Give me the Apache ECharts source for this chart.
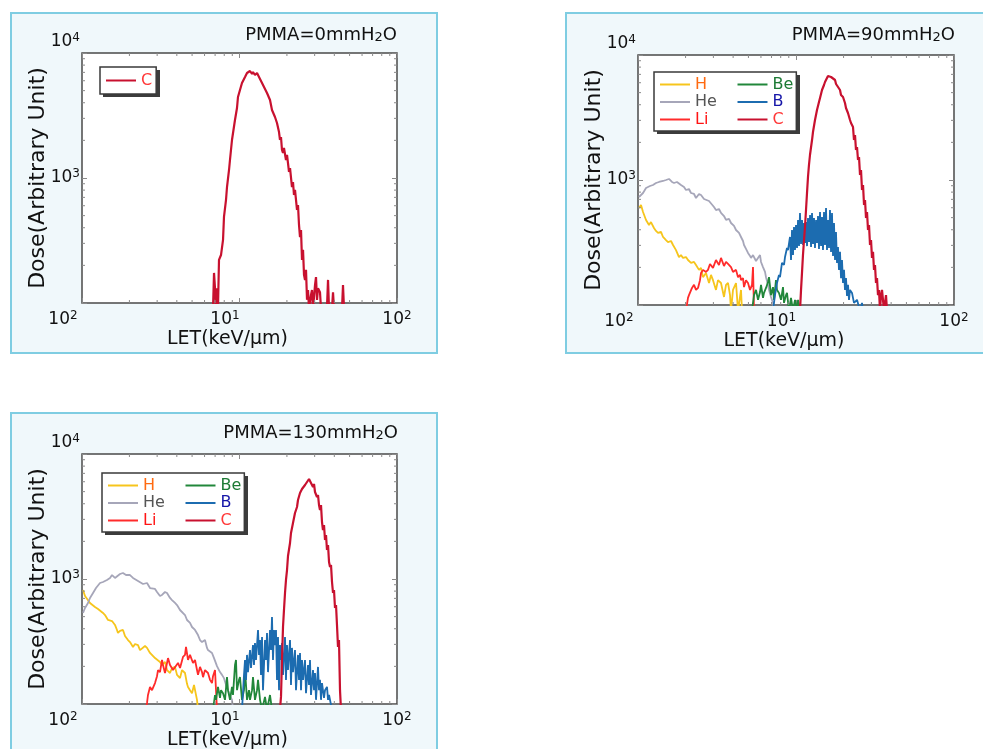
<!DOCTYPE html>
<html>
<head>
<meta charset="utf-8">
<title>LET spectra behind PMMA</title>
<script src="https://cdn.jsdelivr.net/npm/echarts@6/dist/echarts.min.js"></script>
<style>
  html, body { margin:0; padding:0; background:#fff; width:983px; height:749px; overflow:hidden; }
  .panel { position:absolute; width:428px; height:342px; box-sizing:border-box; border:2px solid #7fcde2; background:#f0f8fb; }
  .panel .chart { position:absolute; left:0; top:0; width:424px; height:338px; }
</style>
</head>
<body>
<div class="panel" style="left:10px;top:12px"><div class="chart" id="chart0"></div></div>
<div class="panel" style="left:565px;top:12px"><div class="chart" id="chart90"></div></div>
<div class="panel" style="left:10px;top:412px"><div class="chart" id="chart130"></div></div>
<script>
// ions and their colours (line / legend text)
var ions = ['H', 'He', 'Li', 'Be', 'B', 'C'];
var lineColors = { H:'#f6c51c', He:'#a6a6b9', Li:'#ff2b2b', Be:'#21873a', B:'#1c6cb0', C:'#c8112f' };
var textColors = { H:'#ff6a10', He:'#555555', Li:'#ff1414', Be:'#1d7a35', B:'#1616a8', C:'#ff3838' };

// tick labels, printed as 10^n (the picture shows 10^2 at the left end of LET)
var xTickPowers = [0, 1, 2];
var xTickSups = ['2', '1', '2'];
var yTickPowers = [2, 3, 4];
var yTickSups = ['', '3', '4'];
var xMinorTicks = [2, 3, 4, 5, 6, 7, 8, 9, 20, 30, 40, 50, 60, 70, 80, 90];
var yMinorTicks = [200, 300, 400, 500, 600, 700, 800, 900, 2000, 3000, 4000, 5000, 6000, 7000, 8000, 9000];

// PMMA = 0 mmH2O : [LET, dose]
var pmma0_C = [[6.79,90],[6.89,90],[6.89,174],[6.99,131],[7.09,90],[7.20,131],[7.30,90],[7.41,221],[7.63,242],[7.86,320],[7.97,488],[8.21,667],[8.33,847],[8.58,1159],[8.70,1393],[8.96,2014],[9.09,2089],[9.36,2911],[9.64,3631],[9.78,4446],[10.07,5058],[10.37,5754],[10.84,6427],[11.16,6918],[11.49,6792],[11.66,7178],[12.01,6792],[12.18,7047],[12.54,6668],[12.92,6918],[13.30,6427],[13.90,5754],[14.31,5346],[14.95,4786],[15.62,4207],[16.08,3499],[16.80,3076],[17.30,2754],[17.82,2333],[18.07,2014],[18.34,2128],[18.61,1675],[18.89,1585],[19.16,1738],[19.73,1393],[20.03,1528],[20.32,1318],[20.62,1117],[20.93,1202],[21.54,847],[21.86,929],[22.18,731],[22.51,802],[23.18,555],[23.52,608],[23.87,421],[24.22,337],[24.58,384],[24.94,221],[25.31,266],[25.68,168],[26.06,153],[26.44,184],[26.83,106],[27.23,127],[27.63,90],[28.44,116],[28.86,127],[29.29,90],[30.16,139],[30.60,161],[31.05,106],[31.51,131],[32.44,122],[32.92,90],[35.9,90],[36.48,153],[37.02,90],[38.67,90],[39.24,122],[39.81,90],[44.76,90],[45.41,139],[46.08,90]];

// PMMA = 90 mmH2O
var pmma90_H = [[1.015,597],[1.045,631],[1.076,555],[1.124,479],[1.174,437],[1.208,461],[1.262,413],[1.300,391],[1.339,377],[1.398,384],[1.440,350],[1.504,331],[1.549,319],[1.618,325],[1.666,302],[1.740,275],[1.817,242],[1.871,251],[1.927,238],[2.012,242],[2.072,229],[2.165,217],[2.262,221],[2.329,209],[2.433,191],[2.505,198],[2.579,167],[2.694,180],[2.815,150],[2.897,174],[2.983,158],[3.116,132],[3.208,158],[3.352,150],[3.502,116],[3.606,145],[3.713,150],[3.823,120],[3.879,90],[3.993,132],[4.172,150],[4.296,90],[4.487,132],[4.553,90]];
var pmma90_He = [[1.015,731],[1.076,787],[1.124,863],[1.191,895],[1.244,912],[1.300,946],[1.358,964],[1.440,982],[1.504,1000],[1.571,1019],[1.641,964],[1.690,946],[1.765,964],[1.871,912],[1.955,879],[2.012,832],[2.102,847],[2.165,787],[2.262,773],[2.329,718],[2.433,773],[2.505,759],[2.617,705],[2.694,692],[2.815,679],[2.897,667],[3.027,608],[3.116,575],[3.255,586],[3.352,545],[3.502,515],[3.606,479],[3.767,488],[3.879,453],[4.052,429],[4.172,398],[4.358,377],[4.487,350],[4.620,325],[4.688,302],[4.826,281],[4.969,261],[5.116,247],[5.191,238],[5.344,251],[5.423,242],[5.583,225],[5.749,238],[5.919,251],[6.006,221],[6.183,201],[6.366,184],[6.459,167],[6.650,145],[6.748,132],[6.947,116],[7.153,104],[7.258,90]];
var pmma90_Li = [[2.012,90],[2.072,114],[2.102,120],[2.197,137],[2.262,145],[2.329,132],[2.398,137],[2.468,158],[2.505,180],[2.579,191],[2.617,198],[2.694,184],[2.773,191],[2.855,213],[2.897,217],[2.983,198],[3.116,229],[3.208,221],[3.255,209],[3.352,238],[3.451,233],[3.502,205],[3.606,221],[3.713,213],[3.879,201],[3.993,184],[4.052,180],[4.172,191],[4.296,167],[4.422,174],[4.487,158],[4.620,164],[4.688,139],[4.826,158],[4.969,150],[5.116,132],[5.191,132],[5.267,145],[5.344,201],[5.423,90]];
var pmma90_Be = [[5.267,90],[5.423,120],[5.583,132],[5.749,110],[5.919,127],[6.006,145],[6.183,114],[6.274,125],[6.459,137],[6.650,153],[6.748,167],[6.947,120],[7.153,139],[7.258,110],[7.469,158],[7.580,132],[7.804,125],[8.035,110],[8.274,139],[8.396,104],[8.645,120],[8.770,125],[9.031,90],[9.298,114],[9.573,90],[9.856,110],[10.15,90],[10.30,110],[10.60,90]];
var pmma90_B = [[7.153,90],[7.362,120],[7.580,150],[7.804,174],[7.919,167],[8.153,217],[8.396,209],[8.520,242],[8.770,286],[8.899,275],[9.163,350],[9.298,229],[9.434,398],[9.573,251],[9.713,421],[9.856,275],[10.00,437],[10.15,286],[10.30,479],[10.45,296],[10.60,545],[10.76,308],[10.92,479],[11.08,302],[11.24,453],[11.40,313],[11.57,461],[11.74,296],[11.91,497],[12.09,319],[12.27,525],[12.45,291],[12.63,545],[12.81,308],[13.00,497],[13.19,286],[13.39,479],[13.58,313],[13.78,515],[13.98,281],[14.19,555],[14.40,296],[14.61,506],[14.82,275],[15.04,555],[15.26,302],[15.49,597],[15.71,275],[15.94,479],[16.18,286],[16.41,575],[16.66,266],[16.90,545],[17.15,247],[17.40,453],[17.66,229],[17.91,384],[18.18,217],[18.44,291],[18.71,191],[18.99,266],[19.27,164],[19.55,229],[19.84,150],[20.13,191],[20.42,132],[20.72,164],[21.03,118],[21.34,145],[21.65,110],[21.97,132],[22.62,125],[23.28,104],[24.33,110],[25.42,90],[26.17,104],[26.56,90]];
var pmma90_C = [[10.60,90],[10.76,132],[10.91,180],[11.07,251],[11.24,331],[11.40,421],[11.57,575],[11.74,787],[11.91,1057],[12.08,1318],[12.26,1585],[12.63,2089],[12.81,2421],[13.19,3020],[13.58,3631],[13.98,4207],[14.19,4529],[14.61,5248],[15.04,5754],[15.26,6081],[15.71,6546],[15.94,6792],[16.41,6918],[16.66,6668],[17.15,6546],[17.66,6310],[17.92,5861],[18.45,5546],[18.99,5248],[19.27,4786],[19.84,4613],[20.42,4130],[20.72,3767],[21.33,3436],[21.97,3020],[22.29,2858],[22.95,2655],[23.28,2089],[23.63,2291],[23.97,1738],[24.33,1837],[24.69,1445],[25.05,1528],[25.42,1096],[25.79,1202],[26.17,832],[26.56,912],[26.95,631],[27.34,692],[27.74,497],[28.15,555],[28.56,398],[28.98,437],[29.41,302],[29.84,331],[30.27,238],[30.72,266],[31.17,191],[31.62,209],[32.09,150],[32.56,164],[33.03,120],[33.52,132],[34.01,90],[34.51,120],[35.02,132],[35.53,110],[36.06,90],[37.12,120],[37.67,90]];

// PMMA = 130 mmH2O
var pmma130_H = [[1.015,817],[1.045,731],[1.076,718],[1.124,643],[1.157,655],[1.209,597],[1.264,575],[1.301,565],[1.359,535],[1.400,515],[1.463,470],[1.506,453],[1.551,461],[1.620,429],[1.668,391],[1.692,370],[1.743,384],[1.821,391],[1.875,350],[1.959,325],[2.017,313],[2.108,286],[2.170,302],[2.268,296],[2.335,270],[2.404,261],[2.512,291],[2.587,281],[2.703,256],[2.783,247],[2.908,233],[2.994,225],[3.128,217],[3.221,205],[3.365,217],[3.465,187],[3.621,177],[3.728,194],[3.895,198],[4.011,171],[4.191,161],[4.315,187],[4.508,177],[4.642,145],[4.710,137],[4.850,129],[4.994,122],[5.142,142],[5.218,137],[5.373,108],[5.452,90]];
var pmma130_He = [[1.015,535],[1.045,586],[1.092,643],[1.124,705],[1.175,773],[1.227,847],[1.301,929],[1.359,946],[1.441,982],[1.506,1019],[1.551,1076],[1.620,1019],[1.668,1038],[1.743,1096],[1.821,1117],[1.903,1076],[2.017,1076],[2.108,1019],[2.170,1019],[2.268,964],[2.335,982],[2.440,912],[2.587,929],[2.703,847],[2.783,817],[2.908,832],[2.994,787],[3.128,731],[3.221,745],[3.365,787],[3.465,773],[3.621,705],[3.728,679],[3.895,643],[4.011,619],[4.191,565],[4.315,555],[4.508,515],[4.642,470],[4.850,445],[4.994,413],[5.218,391],[5.452,356],[5.614,325],[5.781,313],[6.039,325],[6.219,281],[6.310,270],[6.497,261],[6.690,256],[6.890,233],[6.990,225],[7.197,201],[7.302,198],[7.519,180],[7.743,171],[7.972,161],[8.090,156],[8.330,134],[8.453,129],[8.703,116],[8.962,108],[9.093,90]];
var pmma130_Li = [[2.549,90],[2.587,102],[2.624,118],[2.703,137],[2.783,129],[2.908,147],[2.994,167],[3.038,187],[3.128,180],[3.221,225],[3.268,205],[3.365,177],[3.415,194],[3.516,233],[3.621,205],[3.783,187],[3.895,194],[4.071,213],[4.191,194],[4.378,238],[4.508,247],[4.575,286],[4.710,225],[4.850,247],[5.069,213],[5.218,225],[5.373,187],[5.452,171],[5.614,198],[5.781,180],[5.867,164],[6.039,187],[6.310,177],[6.497,156],[6.690,147],[6.789,167],[6.990,187],[7.093,129],[7.197,90]];
var pmma130_Be = [[6.789,90],[6.990,118],[7.093,108],[7.302,137],[7.519,112],[7.630,129],[7.857,122],[8.090,108],[8.330,164],[8.453,129],[8.703,108],[8.962,137],[9.093,118],[9.364,205],[9.502,225],[9.641,129],[9.927,156],[10.07,164],[10.37,108],[10.68,129],[10.84,187],[11.16,108],[11.49,129],[11.66,108],[12.01,129],[12.18,164],[12.54,108],[12.92,129],[13.11,156],[13.50,108],[13.90,90],[14.52,114],[14.95,90],[15.62,118],[16.08,90]];
var pmma130_B = [[10.37,90],[10.52,122],[10.68,171],[10.84,225],[11.00,156],[11.16,247],[11.32,180],[11.66,270],[11.83,194],[12.18,296],[12.36,205],[12.54,308],[12.73,225],[13.11,391],[13.30,247],[13.50,325],[13.69,171],[13.90,344],[14.10,129],[14.52,325],[14.74,225],[14.95,370],[15.17,180],[15.62,391],[15.85,270],[16.08,497],[16.32,225],[16.56,391],[16.80,296],[17.05,391],[17.30,156],[17.56,344],[17.82,129],[18.07,296],[18.34,225],[18.61,308],[18.89,171],[19.45,344],[19.73,156],[20.03,296],[20.32,187],[20.93,325],[21.23,142],[21.54,281],[21.86,180],[22.51,270],[22.84,129],[23.52,247],[23.87,156],[24.22,256],[24.58,129],[24.94,225],[25.31,156],[26.06,225],[26.44,122],[27.23,205],[27.63,142],[28.03,225],[28.44,118],[29.29,187],[29.72,129],[30.16,177],[30.60,108],[31.51,198],[31.97,129],[32.44,156],[32.92,108],[33.40,147],[34.40,112],[34.91,129],[35.94,137],[36.48,108],[37.02,118],[37.56,114],[38.67,90]];
var pmma130_C = [[18.07,90],[18.34,114],[18.61,225],[18.89,413],[19.16,565],[19.45,773],[19.73,982],[20.03,1180],[20.32,1528],[20.93,1941],[21.23,2333],[21.86,2805],[22.51,3373],[23.18,3767],[23.52,4285],[24.22,4875],[24.94,5248],[26.06,5649],[26.83,5970],[27.63,6310],[28.03,6194],[28.44,6546],[29.29,5445],[29.72,5754],[30.16,4966],[31.05,4529],[31.51,4699],[31.97,3908],[32.44,3565],[32.92,3908],[33.40,2858],[33.89,2466],[34.40,2704],[34.91,2051],[35.42,2249],[35.94,1706],[36.48,1871],[37.02,1368],[37.56,1247],[38.11,1294],[38.67,946],[39.24,773],[39.81,817],[40.40,586],[41.00,619],[41.59,429],[42.21,286],[42.82,325],[43.46,129],[44.10,90]];

var FONT = 'DejaVu Sans';
var INK = '#111';

function supLabel(pow, sups, powers, keyBase, keySup) {
  var i = powers.indexOf(pow);
  if (i < 0 || !sups[i]) return '';
  return '{' + keyBase + '|10}{' + keySup + '|' + sups[i] + '}';
}

// minor log ticks on all four sides of the frame
function minorTickSeries(vals, isX) {
  return {
    type: 'custom', silent: true, animation: false, clip: false, z: 5,
    encode: { x: 0, y: 1 },
    data: vals.map(function (v) { return isX ? [v, 100] : [1, v]; }),
    renderItem: function (params, api) {
      var a, b, len = 3, st = { stroke: '#8a8a8a', lineWidth: 1 };
      if (isX) {
        a = api.coord([api.value(0), 100]);
        b = api.coord([api.value(0), 10000]);
        return { type: 'group', children: [
          { type: 'line', shape: { x1: a[0], y1: a[1], x2: a[0], y2: a[1] - len }, style: st },
          { type: 'line', shape: { x1: b[0], y1: b[1], x2: b[0], y2: b[1] + len }, style: st }
        ]};
      }
      a = api.coord([1, api.value(1)]);
      b = api.coord([100, api.value(1)]);
      return { type: 'group', children: [
        { type: 'line', shape: { x1: a[0], y1: a[1], x2: a[0] + len, y2: a[1] }, style: st },
        { type: 'line', shape: { x1: b[0], y1: b[1], x2: b[0] - len, y2: b[1] }, style: st }
      ]};
    }
  };
}

function makeOption(p) {
  var tick = { show: true, inside: true, length: 5, lineStyle: { color: '#8a8a8a', width: 1 } };
  var sup = { fontFamily: FONT, fontSize: 12, lineHeight: 12, verticalAlign: 'top', color: INK };
  var rich = {
    b:  { fontFamily: FONT, fontSize: 17, lineHeight: 20, color: INK },
    bt: { fontFamily: FONT, fontSize: 17, lineHeight: 20, color: INK, padding: [0, 0, 22, 0] },
    e:  sup,
    et: { fontFamily: FONT, fontSize: 12, lineHeight: 12, color: INK, padding: [0, 0, 30, 0] },
    el: echarts.util.extend({ padding: [0, 38, 0, 0] }, sup),
    em: echarts.util.extend({ padding: [0, 29, 0, 0] }, sup)
  };

  var series = p.ions.map(function (ion) {
    return {
      name: ion, type: 'line', data: p.data[ion],
      symbol: 'none', showSymbol: false, animation: false, z: 3,
      lineStyle: { width: ion === 'C' ? 2.2 : 1.8, color: lineColors[ion] },
      itemStyle: { color: lineColors[ion] }
    };
  });
  series.push(minorTickSeries(xMinorTicks, true));
  series.push(minorTickSeries(yMinorTicks, false));

  var legendData = p.ions.map(function (ion, i) {
    var ts = { color: textColors[ion] };
    if (p.ions.length > 1 && i < 3) ts.width = 42;
    return { name: ion, textStyle: ts };
  });

  return {
    animation: false,
    textStyle: { fontFamily: FONT },
    title: {
      text: '{t|PMMA=' + p.depth + 'mmH}{s|2}{t|O}',
      right: p.titleRight, top: p.titleTop, padding: 0,
      textStyle: { fontWeight: 'normal', rich: {
        t: { fontFamily: FONT, fontSize: 18, fontWeight: 'normal', lineHeight: 18, verticalAlign: 'top', color: INK },
        s: { fontFamily: FONT, fontSize: 13, fontWeight: 'normal', lineHeight: 14, verticalAlign: 'bottom', padding: [8, 0, 0, 0], color: INK }
      }}
    },
    // hard drop shadow under the legend box
    graphic: [{
      type: 'rect', z: 3, silent: true,
      left: p.legendBox[0] + 3, top: p.legendBox[1] + 3,
      shape: { width: p.legendBox[2], height: p.legendBox[3] },
      style: { fill: '#3c3c3c' }
    }],
    legend: {
      left: p.legendBox[0], top: p.legendBox[1], orient: 'vertical', height: 53, z: 4,
      icon: 'rect', itemWidth: 30, itemHeight: 2, itemGap: 0.5, selectedMode: false,
      padding: p.legendPad, backgroundColor: '#fff', borderColor: '#3a3a3a', borderWidth: 1.5,
      itemStyle: { borderWidth: 0 },
      textStyle: { fontFamily: FONT, fontSize: 16, lineHeight: 17 },
      data: legendData
    },
    grid: {
      left: p.grid[0], top: p.grid[1], width: p.grid[2], height: p.grid[3],
      outerBoundsMode: 'none', containLabel: false,
      show: true, backgroundColor: '#fff', borderColor: '#4a4a4a', borderWidth: 1.5
    },
    xAxis: [{
      type: 'log', logBase: 10, min: 1, max: 100, position: 'bottom',
      axisLine: { show: false }, axisTick: tick, splitLine: { show: false },
      axisLabel: {
        margin: 7, rich: rich,
        formatter: function (v) {
          var pw = Math.round(Math.log(v) / Math.LN10);
          var i = xTickPowers.indexOf(pw);
          var key = i === 0 ? 'el' : (i === 1 ? 'em' : 'e');
          return supLabel(pw, xTickSups, xTickPowers, 'b', key);
        }
      },
      name: 'LET(keV/\u03bcm)', nameLocation: 'middle', nameGap: 27, nameMoveOverlap: false,
      nameTextStyle: { fontFamily: FONT, fontSize: 19, color: INK, padding: [0, 24, 0, 0] }
    }, {
      type: 'log', logBase: 10, min: 1, max: 100, position: 'top',
      axisLine: { show: false }, axisTick: tick, axisLabel: { show: false }, splitLine: { show: false }
    }],
    yAxis: [{
      type: 'log', logBase: 10, min: 100, max: 10000, position: 'left',
      axisLine: { show: false }, axisTick: tick, splitLine: { show: false },
      axisLabel: {
        margin: 2, rich: rich,
        formatter: function (v) {
          var pw = Math.round(Math.log(v) / Math.LN10);
          var top = pw === yTickPowers[yTickPowers.length - 1];
          return supLabel(pw, yTickSups, yTickPowers, top ? 'bt' : 'b', top ? 'et' : 'e');
        }
      },
      name: 'Dose(Arbitrary Unit)', nameLocation: 'middle', nameGap: 33, nameMoveOverlap: false,
      nameTextStyle: { fontFamily: FONT, fontSize: 22, color: INK }
    }, {
      type: 'log', logBase: 10, min: 100, max: 10000, position: 'right',
      axisLine: { show: false }, axisTick: tick, axisLabel: { show: false }, splitLine: { show: false }
    }],
    series: series
  };
}

var panels = [
  { el: 'chart0', depth: '0', titleRight: 39, titleTop: 12,
    grid: [70, 39, 315, 250], legendBox: [88, 53, 57, 27], legendPad: [5, 4, 5, 6],
    ions: ['C'], data: { C: pmma0_C } },
  { el: 'chart90', depth: '90', titleRight: 36, titleTop: 12,
    grid: [71, 41, 316, 250], legendBox: [87, 58, 143, 59], legendPad: [4, 3, 3, 6],
    ions: ions, data: { H: pmma90_H, He: pmma90_He, Li: pmma90_Li, Be: pmma90_Be, B: pmma90_B, C: pmma90_C } },
  { el: 'chart130', depth: '130', titleRight: 38, titleTop: 10,
    grid: [70, 40, 315, 250], legendBox: [90, 59, 143, 59], legendPad: [4, 3, 3, 6],
    ions: ions, data: { H: pmma130_H, He: pmma130_He, Li: pmma130_Li, Be: pmma130_Be, B: pmma130_B, C: pmma130_C } }
];

panels.forEach(function (p) {
  var chart = echarts.init(document.getElementById(p.el), null, { renderer: 'canvas' });
  chart.setOption(makeOption(p));
});
</script>
</body>
</html>
